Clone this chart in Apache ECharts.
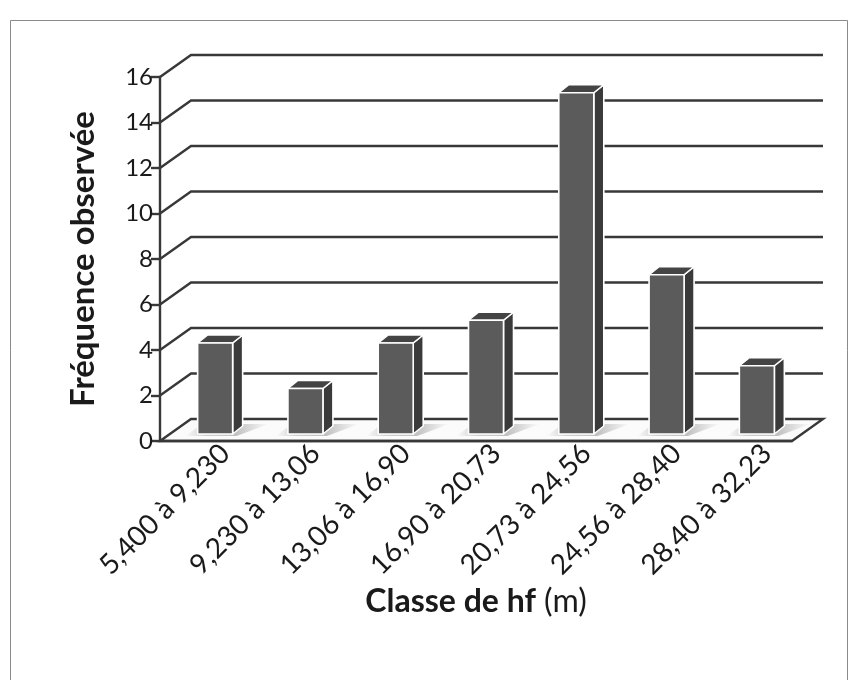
<!DOCTYPE html>
<html>
<head>
<meta charset="utf-8">
<script src="https://cdn.jsdelivr.net/npm/echarts@6/dist/echarts.min.js"></script>
<style>
  html, body { margin: 0; padding: 0; background: #fff; }
  #chart { width: 857px; height: 680px; }
</style>
</head>
<body>
<div id="chart"></div>
<script>
// Height classes (hf, metres) and observed frequency per class
const categories = [
  '5,400 à 9,230', '9,230 à 13,06', '13,06 à 16,90', '16,90 à 20,73',
  '20,73 à 24,56', '24,56 à 28,40', '28,40 à 32,23'
];
const frequencies = [4, 2, 4, 5, 15, 7, 3];
const yTicks = [0, 2, 4, 6, 8, 10, 12, 14, 16];

const FONT = 'Lato, "Open Sans", sans-serif';
// pseudo-3D geometry: back wall offset and bar depth
const WALL_DX = 31, WALL_DY = -22;
const BAR_W = 35, BAR_SHIFT_X = 10, BAR_SHIFT_Y = -7;
const DEPTH_X = 10, DEPTH_Y = -8;
const GRID_COLOR = '#383838';
const TEXT_COLOR = '#1a1a1a';

const chart = echarts.init(document.getElementById('chart'), null, { renderer: 'canvas' });

// Back-wall gridlines with their diagonal connectors, plus the floor
function renderWall(params, api) {
  const cs = params.coordSys;
  const v = api.value(1);
  const y = api.coord([0, v])[1];
  const x0 = cs.x, x1 = cs.x + cs.width;
  if (v === 0) {
    return {
      type: 'polygon',
      shape: { points: [[x0, y], [x0 + WALL_DX, y + WALL_DY], [x1 + WALL_DX, y + WALL_DY], [x1, y]] },
      style: { fill: '#fbfbfb', stroke: GRID_COLOR, lineWidth: 2.4 }
    };
  }
  return {
    type: 'polyline',
    shape: { points: [[x0, y], [x0 + WALL_DX, y + WALL_DY], [x1 + WALL_DX, y + WALL_DY]] },
    style: { stroke: GRID_COLOR, lineWidth: 2.4, fill: null }
  };
}

// Box-shaped column: floor shadow, side face, top face, front face
function renderBar(params, api) {
  const i = api.value(0);
  const v = api.value(1);
  const base = api.coord([i, 0]);
  const top = api.coord([i, v]);
  const xL = base[0] - BAR_W / 2 + BAR_SHIFT_X;
  const xR = xL + BAR_W;
  const yB = base[1] + BAR_SHIFT_Y;
  const yT = top[1] + BAR_SHIFT_Y;
  const edge = { stroke: '#ffffff', lineWidth: 1.6, lineJoin: 'round' };
  return {
    type: 'group',
    children: [
      {
        type: 'polygon',
        shape: { points: [[xL - 12, yB + 2], [xR + 4, yB + 2], [xR + DEPTH_X + 26, yB + DEPTH_Y - 2], [xL + 4, yB + DEPTH_Y - 2]] },
        style: {
          fill: new echarts.graphic.LinearGradient(0, 0, 1, 0, [
            { offset: 0, color: 'rgba(120,120,120,0)' },
            { offset: 0.25, color: 'rgba(120,120,120,0.35)' },
            { offset: 0.6, color: 'rgba(120,120,120,0.45)' },
            { offset: 1, color: 'rgba(120,120,120,0)' }
          ])
        }
      },
      {
        type: 'polygon',
        shape: { points: [[xR, yT], [xR + DEPTH_X, yT + DEPTH_Y], [xR + DEPTH_X, yB + DEPTH_Y], [xR, yB]] },
        style: Object.assign({ fill: '#3a3a3a' }, edge)
      },
      {
        type: 'polygon',
        shape: { points: [[xL, yT], [xL + DEPTH_X, yT + DEPTH_Y], [xR + DEPTH_X, yT + DEPTH_Y], [xR, yT]] },
        style: Object.assign({ fill: '#444444' }, edge)
      },
      {
        type: 'rect',
        shape: { x: xL, y: yT, width: BAR_W, height: yB - yT },
        style: Object.assign({ fill: '#5b5b5b' }, edge)
      }
    ]
  };
}

const option = {
  backgroundColor: '#ffffff',
  animation: false,
  graphic: [{
    type: 'rect',
    shape: { x: 10.5, y: 20.5, width: 837, height: 700 },
    style: { fill: null, stroke: '#8a8a8a', lineWidth: 1 },
    z: -10
  }],
  grid: [
    // front plane of the plot
    { left: 160, top: 77, width: 632, height: 364 },
    // category labels sit slightly right of the front plane, under the columns
    { left: 180, top: 77, width: 632, height: 364 }
  ],
  xAxis: [
    {
      type: 'category',
      gridIndex: 0,
      data: categories,
      axisLine: { show: true, lineStyle: { color: GRID_COLOR, width: 2.4 } },
      axisTick: { show: false },
      axisLabel: { show: false },
      name: '{b|Classe de hf}{r| (m)}',
      nameLocation: 'middle',
      nameGap: 145,
      nameTextStyle: {
        rich: {
          b: { fontFamily: FONT, fontSize: 32, fontWeight: 'bold', color: TEXT_COLOR },
          r: { fontFamily: FONT, fontSize: 32, color: TEXT_COLOR }
        }
      },
      z: 5
    },
    {
      type: 'category',
      gridIndex: 1,
      data: categories,
      axisLine: { show: false },
      axisTick: { show: false },
      axisLabel: {
        rotate: 45, interval: 0, margin: 8,
        fontFamily: FONT, fontSize: 28, color: TEXT_COLOR
      }
    }
  ],
  yAxis: [
    {
      type: 'value',
      gridIndex: 0,
      min: 0, max: 16, interval: 2,
      axisLine: { show: true, lineStyle: { color: GRID_COLOR, width: 2.4 } },
      axisTick: { show: true, length: 9, lineStyle: { color: GRID_COLOR, width: 2.4 } },
      splitLine: { show: false },
      axisLabel: { fontFamily: FONT, fontSize: 24, color: TEXT_COLOR, margin: 7 },
      name: 'Fréquence observée',
      nameLocation: 'middle',
      nameGap: 60,
      nameRotate: 90,
      nameTextStyle: { fontFamily: FONT, fontSize: 33, fontWeight: 'bold', color: TEXT_COLOR }
    },
    {
      type: 'value',
      gridIndex: 1,
      min: 0, max: 16, interval: 2,
      show: false
    }
  ],
  series: [
    {
      type: 'custom',
      name: 'wall',
      xAxisIndex: 0, yAxisIndex: 0,
      renderItem: renderWall,
      data: yTicks.map(t => [0, t]),
      z: 1,
      silent: true
    },
    {
      type: 'custom',
      name: 'Fréquence observée',
      xAxisIndex: 0, yAxisIndex: 0,
      renderItem: renderBar,
      data: frequencies.map((f, i) => [i, f]),
      z: 3
    }
  ]
};

chart.setOption(option);
</script>
</body>
</html>
